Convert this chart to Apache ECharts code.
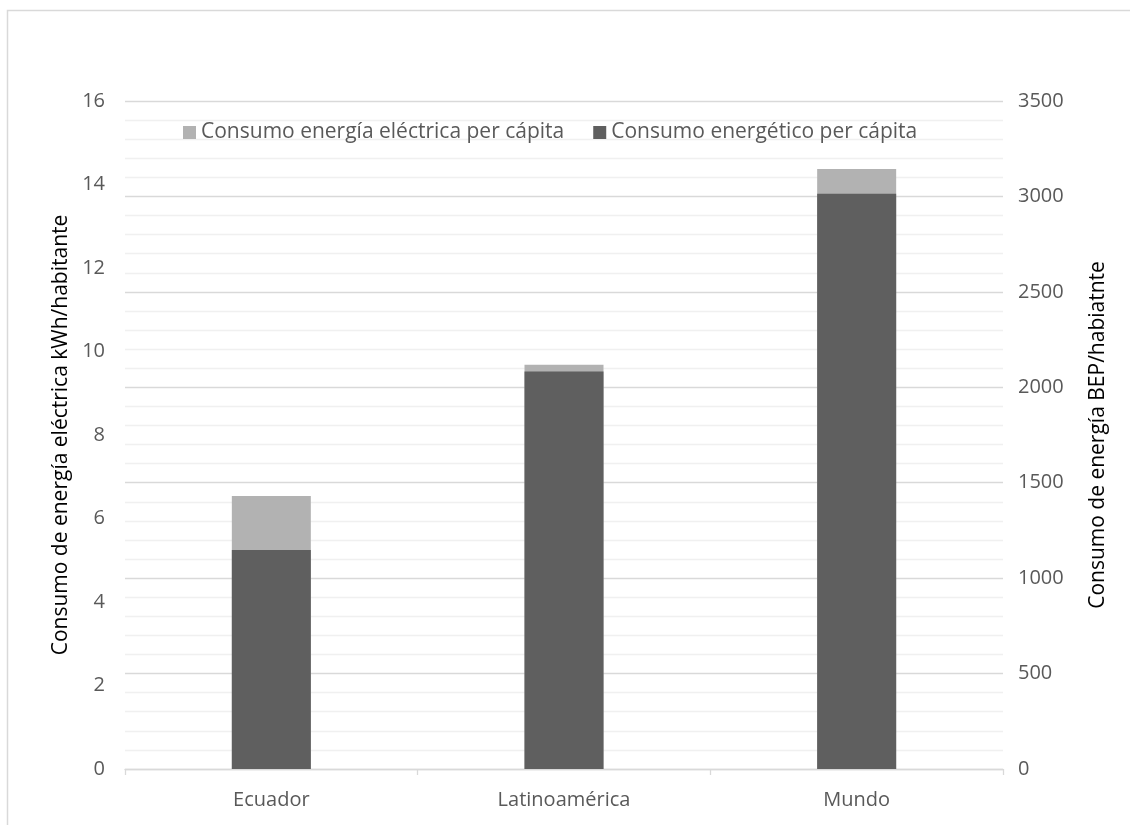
<!DOCTYPE html>
<html>
<head>
<meta charset="utf-8">
<style>
  html, body { margin: 0; padding: 0; background: #ffffff; }
  #chart { width: 1130px; height: 825px; }
</style>
<script src="https://cdn.jsdelivr.net/npm/echarts@6/dist/echarts.min.js"></script>
</head>
<body>
<div id="chart"></div>
<script>
// Regions compared
const categories = ['Ecuador', 'Latinoamérica', 'Mundo'];
// Electricity consumption per capita (left axis, kWh/habitante)
const electricityPerCapita = [6.54, 9.68, 14.37];
// Energy consumption per capita (right axis, BEP/habitante)
const energyPerCapita = [1147, 2083, 3014];

const seriesNames = ['Consumo energía eléctrica per cápita', 'Consumo energético per cápita'];
const leftAxisName = 'Consumo de energía eléctrica kWh/habitante';
const rightAxisName = 'Consumo de energía BEP/habiatnte';

const FONT = '"Open Sans", "Noto Sans", sans-serif';
const TEXT_GREY = '#595959';

const chart = echarts.init(document.getElementById('chart'), null, { renderer: 'canvas' });

chart.setOption({
  backgroundColor: '#ffffff',
  animation: false,
  textStyle: { fontFamily: FONT },
  graphic: [
    {
      type: 'polyline',
      shape: { points: [[7.5, 825], [7.5, 10.5], [1130, 10.5]] },
      style: { stroke: '#d9d9d9', lineWidth: 1.5, fill: null },
      silent: true
    }
  ],
  legend: {
    top: 117,
    left: 178,
    itemWidth: 13,
    itemHeight: 13,
    itemGap: 29,
    icon: 'rect',
    textStyle: { fontFamily: FONT, fontSize: 21, color: TEXT_GREY },
    data: seriesNames
  },
  grid: { left: 125, right: 127, top: 101, bottom: 56, containLabel: false },
  xAxis: {
    type: 'category',
    data: categories,
    axisLine: { show: true, lineStyle: { color: '#d9d9d9', width: 1.3 } },
    axisTick: { show: true, length: 6, lineStyle: { color: '#d9d9d9', width: 1.3 } },
    axisLabel: { fontFamily: FONT, fontSize: 20, color: TEXT_GREY, margin: 21 }
  },
  yAxis: [
    {
      type: 'value',
      min: 0, max: 16, interval: 2,
      name: leftAxisName,
      nameLocation: 'middle',
      nameGap: 53,
      nameRotate: 90,
      nameMoveOverlap: false,
      nameTextStyle: { fontFamily: FONT, fontSize: 21, color: '#000000' },
      axisLine: { show: false },
      axisTick: { show: false },
      splitLine: { show: false },
      axisLabel: { fontFamily: FONT, fontSize: 20, color: TEXT_GREY, margin: 20 }
    },
    {
      type: 'value',
      position: 'right',
      min: 0, max: 3500, interval: 500,
      name: rightAxisName,
      nameLocation: 'middle',
      nameGap: 85,
      nameRotate: 90,
      nameMoveOverlap: false,
      nameTextStyle: { fontFamily: FONT, fontSize: 21, color: '#000000' },
      axisLine: { show: false },
      axisTick: { show: false },
      minorTick: { show: false, splitNumber: 5 },
      splitLine: { show: true, lineStyle: { color: '#d9d9d9', width: 1.3 } },
      minorSplitLine: { show: true, lineStyle: { color: '#f0f0f0', width: 1.3 } },
      axisLabel: { fontFamily: FONT, fontSize: 20, color: TEXT_GREY, margin: 15, formatter: (v) => String(v) }
    }
  ],
  series: [
    {
      name: seriesNames[0],
      type: 'bar',
      yAxisIndex: 0,
      data: electricityPerCapita,
      barWidth: 79,
      barGap: '-100%',
      itemStyle: { color: '#b2b2b2' },
      z: 2
    },
    {
      name: seriesNames[1],
      type: 'bar',
      yAxisIndex: 1,
      data: energyPerCapita,
      barWidth: 79,
      itemStyle: { color: '#5f5f5f' },
      z: 3
    }
  ]
});
</script>
</body>
</html>
